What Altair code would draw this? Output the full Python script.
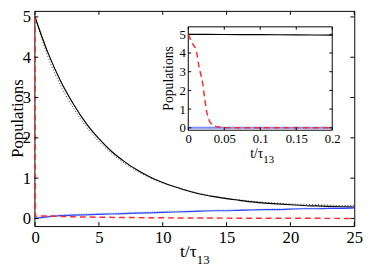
import altair as alt
import pandas as pd

# ---------------- data ----------------
t_main = [0, 1, 2, 3, 4, 5, 6, 7, 8, 9, 10, 11, 12, 13, 14, 15, 16, 17, 18, 19, 20, 21, 22, 23, 24, 25]
black = [5.00, 4.12, 3.41, 2.84, 2.36, 1.98, 1.66, 1.41, 1.20, 1.03, 0.89, 0.78, 0.68,
         0.60, 0.54, 0.49, 0.45, 0.41, 0.38, 0.36, 0.34, 0.32, 0.31, 0.30, 0.29, 0.28]
black_dot = [5.00, 4.02, 3.30, 2.74, 2.28, 1.91, 1.61, 1.37, 1.17, 1.01, 0.88, 0.78, 0.69,
             0.61, 0.55, 0.50, 0.46, 0.43, 0.40, 0.38, 0.36, 0.35, 0.34, 0.33, 0.32, 0.32]
blue = [0.00, 0.04, 0.07, 0.08, 0.09, 0.10, 0.11, 0.12, 0.13, 0.14, 0.15, 0.16, 0.17,
        0.18, 0.19, 0.19, 0.20, 0.21, 0.22, 0.22, 0.23, 0.24, 0.24, 0.25, 0.25, 0.26]
blue_dot = [0.00, 0.06, 0.09, 0.10, 0.11, 0.12, 0.13, 0.14, 0.15, 0.16, 0.17, 0.18, 0.18,
            0.19, 0.20, 0.21, 0.22, 0.22, 0.23, 0.24, 0.24, 0.25, 0.25, 0.26, 0.26, 0.27]
t_red = [0, 0.005, 0.011, 0.015, 0.02, 0.023, 0.027, 0.033, 0.042, 0.05, 0.3, 1, 2, 3, 5, 8, 12, 18, 25]
red = [5.0, 4.56, 4.13, 3.25, 2.37, 1.49, 0.62, 0.18, 0.04, 0.05, 0.06, 0.06, 0.05, 0.04, 0.03, 0.02, 0.01, 0.005, 0.0]

t_in = [0, 0.05, 0.1, 0.15, 0.2]
black_in = [5.0, 4.99, 4.98, 4.97, 4.96]
blue_in = [0.0, 0.0, 0.0, 0.0, 0.0]
t_in_red = [0, 0.005, 0.011, 0.015, 0.02, 0.023, 0.027, 0.033, 0.042, 0.05, 0.1, 0.15, 0.2]
red_in = [5.0, 4.56, 4.13, 3.25, 2.37, 1.49, 0.62, 0.18, 0.04, 0.01, 0.0, 0.0, 0.0]

main_xticks = [0, 5, 10, 15, 20, 25]
main_yticks = [0, 1, 2, 3, 4, 5]
inset_xticks = [0, 0.05, 0.1, 0.15, 0.2]
inset_yticks = [0, 1, 2, 3, 4, 5]

# ---------------- layout constants ----------------
F = "Liberation Serif"
W, H = 327, 220
MX = [-0.05, 25]
MY = [-0.19, 5.15]
IX = [0, 0.2]
IY = [-0.13, 5.4]
IXR = [157.3, 304.5]
IYR = [122, 16.3]

def mX(field):
    return alt.X(field, type="quantitative",
                 scale=alt.Scale(domain=MX, nice=False, zero=False),
                 axis=alt.Axis(values=main_xticks, orient="bottom", ticks=False, domain=False, grid=False,
                               labelFont=F, labelFontSize=17, labelColor="black", labelPadding=12,
                               labelBaseline="middle", labelFlush=False, labelOverlap=False, title=None))

def mY(field):
    return alt.Y(field, type="quantitative",
                 scale=alt.Scale(domain=MY, nice=False, zero=False),
                 axis=alt.Axis(values=main_yticks, orient="left", ticks=False, domain=False, grid=False,
                               labelFont=F, labelFontSize=17, labelColor="black", labelPadding=4,
                               labelFlush=False, labelOverlap=False, title=None))

def iX(field):
    return alt.X(field, type="quantitative",
                 scale=alt.Scale(domain=IX, range=IXR, nice=False, zero=False),
                 axis=alt.Axis(values=inset_xticks, orient="bottom", offset=IYR[0] - H, ticks=False,
                               domain=False, grid=False, labelFont=F, labelFontSize=13, labelColor="black",
                               labelPadding=9, labelBaseline="middle", labelFlush=False, labelOverlap=False,
                               labelExpr="'' + datum.value", title=None))

def iY(field):
    return alt.Y(field, type="quantitative",
                 scale=alt.Scale(domain=IY, range=IYR, nice=False, zero=False),
                 axis=alt.Axis(values=inset_yticks, orient="left", offset=-IXR[0], ticks=False,
                               domain=False, grid=False, labelFont=F, labelFontSize=13, labelColor="black",
                               labelPadding=3, labelFlush=False, labelOverlap=False, title=None))

def line(df, X, Y, color, width=1.2, dash=None, interp="monotone"):
    kw = dict(color=color, strokeWidth=width, interpolate=interp, clip=True)
    if dash:
        kw["strokeDash"] = dash
    return alt.Chart(df).mark_line(**kw).encode(x=X("t"), y=Y("v"))

def df_of(t, v):
    return pd.DataFrame({"t": t, "v": v})

def tick_layers(X, Y, xt, yt, xd, yd, lx, ly):
    vx = pd.DataFrame({"x": xt * 2,
                       "y": [yd[0]] * len(xt) + [yd[1]] * len(xt),
                       "y2": [yd[0] + ly] * len(xt) + [yd[1] - ly] * len(xt)})
    hy = pd.DataFrame({"y": yt * 2,
                       "x": [xd[0]] * len(yt) + [xd[1]] * len(yt),
                       "x2": [xd[0] + lx] * len(yt) + [xd[1] - lx] * len(yt)})
    a = alt.Chart(vx).mark_rule(color="black", strokeWidth=1).encode(
        x=X("x"), y=Y("y"), y2="y2")
    b = alt.Chart(hy).mark_rule(color="black", strokeWidth=1).encode(
        y=Y("y"), x=X("x"), x2="x2")
    return [a, b]

def txt(s, x, y, size, align="center", baseline="middle", angle=0):
    kw = dict(font=F, fontSize=size, color="black", align=align, baseline=baseline)
    if angle:
        kw["angle"] = angle
    return alt.Chart(pd.DataFrame({"s": [s]})).mark_text(**kw).encode(
        text="s:N", x=alt.value(x), y=alt.value(y))

# ---------------- main panel ----------------
main_layers = [
    line(df_of(t_main, black_dot), mX, mY, "#333333", 1.0, [1, 2]),
    line(df_of(t_main, black), mX, mY, "black", 1.2),
    line(df_of(t_main, blue_dot), mX, mY, "#8a9aff", 1.2, [1, 1.5]),
    line(df_of(t_main, blue), mX, mY, "#2a45ff", 1.2),
    line(df_of(t_red, red), mX, mY, "#ff2a2a", 1.5, [6, 4], "linear"),
] + tick_layers(mX, mY, main_xticks, main_yticks, MX, MY, 4 / (W / (MX[1] - MX[0])), 4 / (H / (MY[1] - MY[0]))) + [
    txt("Populations", -17, 110, 17, angle=270),
    txt("t/τ", 166, 252, 18, align="right", baseline="alphabetic"),
    txt("13", 166, 259, 13, align="left", baseline="alphabetic"),
]
main = alt.layer(*main_layers)

# ---------------- inset ----------------
frame_df = pd.DataFrame({"x": [IX[0]], "x2": [IX[1]], "y": [IY[0]], "y2": [IY[1]]})
frame = alt.Chart(frame_df).mark_rect(fill="white", stroke="black", strokeWidth=1).encode(
    x=iX("x"), x2="x2", y=iY("y"), y2="y2")
ix_px = (IXR[1] - IXR[0]) / (IX[1] - IX[0])
iy_px = (IYR[0] - IYR[1]) / (IY[1] - IY[0])
inset_layers = [frame,
    line(df_of(t_in, blue_in), iX, iY, "#7b8cff", 2.2),
    line(df_of(t_in, black_in), iX, iY, "black", 1.2),
    line(df_of(t_in_red, red_in), iX, iY, "#ff2a2a", 1.5, [6, 4]),
] + tick_layers(iX, iY, inset_xticks, inset_yticks, IX, IY, 3 / ix_px, 3 / iy_px) + [
    txt("Populations", 138, 69, 14, angle=270),
    txt("t/τ", 234, 150, 14, align="right", baseline="alphabetic"),
    txt("13", 234, 156, 11, align="left", baseline="alphabetic"),
]
inset = alt.layer(*inset_layers)

chart = alt.layer(main, inset).resolve_scale(x="independent", y="independent").properties(
    width=W, height=H,
    autosize=alt.AutoSizeParams(type="none"),
    padding={"left": 27, "top": 0, "right": 12, "bottom": 45},
).configure_view(stroke="black", strokeWidth=1).configure_axis(labelFont=F).configure_text(font=F)

chart.save("out.html", embed_options={"renderer": "svg", "actions": False})
